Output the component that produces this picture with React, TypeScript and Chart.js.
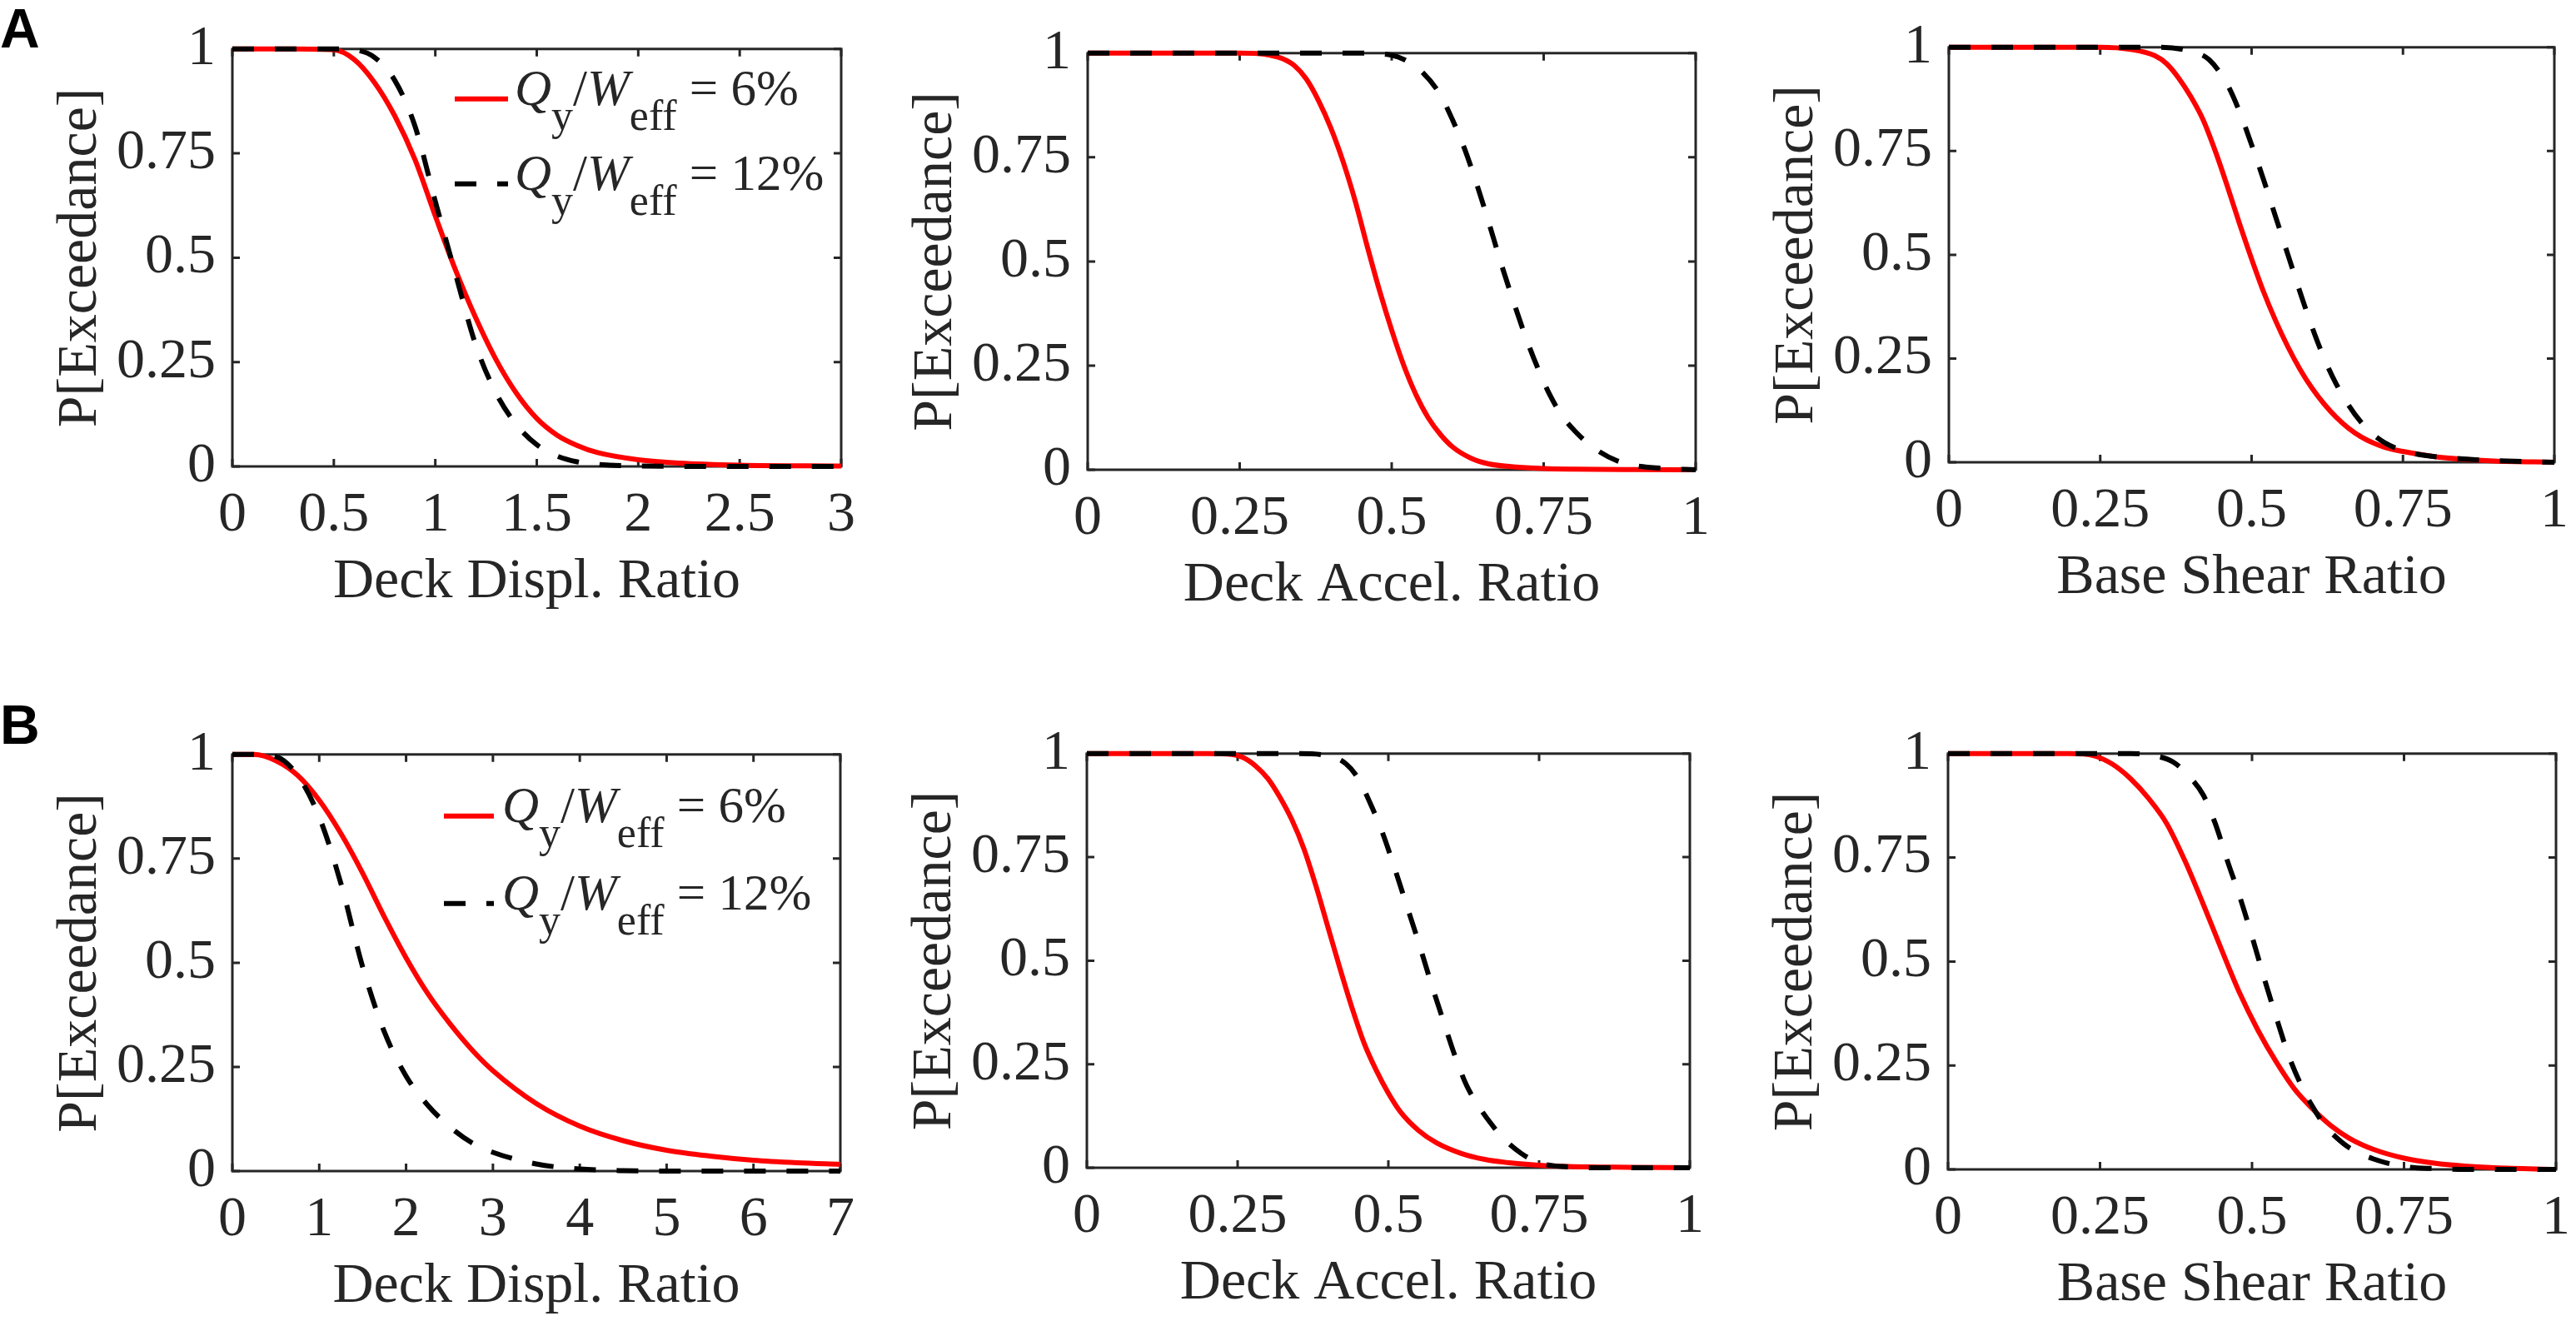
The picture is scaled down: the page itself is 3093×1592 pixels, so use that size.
import { useEffect, useRef } from 'react';
import { Chart, registerables } from 'chart.js';

Chart.register(...registerables);
Chart.defaults.font.family = '"Liberation Serif", "Times New Roman", serif';

const RED = '#ff0000';
const BLACK = '#000000';
const INK = '#262626';
const SERIF = '"Liberation Serif", "Times New Roman", serif';

// tick labels
const probTicks = [0, 0.25, 0.5, 0.75, 1];
const displTicksA = [0, 0.5, 1, 1.5, 2, 2.5, 3];
const displTicksB = [0, 1, 2, 3, 4, 5, 6, 7];
const ratioTicks = [0, 0.25, 0.5, 0.75, 1];

const yTitle = 'P[Exceedance]';
const xTitles = ['Deck Displ. Ratio', 'Deck Accel. Ratio', 'Base Shear Ratio'];
const legendPercents = ['6%', '12%'];

// Row A - deck displacement
const aDisplX6 = [0, 0.3, 0.5, 0.6, 0.7, 0.8, 0.9, 1.0, 1.1, 1.2, 1.3, 1.4, 1.5, 1.6, 1.7, 1.8, 2.0, 2.2, 2.5, 3.0];
const aDisplY6 = [1, 1, 0.998, 0.975, 0.92, 0.84, 0.735, 0.6, 0.47, 0.355, 0.255, 0.175, 0.115, 0.075, 0.05, 0.033, 0.016, 0.008, 0.003, 0.001];
const aDisplX12 = [0, 0.5, 0.6, 0.7, 0.8, 0.9, 1.0, 1.1, 1.2, 1.3, 1.4, 1.5, 1.6, 1.7, 1.8, 2.0, 2.5, 3.0];
const aDisplY12 = [1, 1, 0.998, 0.98, 0.925, 0.815, 0.635, 0.46, 0.29, 0.175, 0.1, 0.052, 0.025, 0.011, 0.005, 0.001, 0, 0];

// Row A - deck acceleration
const aAccelX6 = [0, 0.25, 0.28, 0.3, 0.32, 0.34, 0.36, 0.38, 0.4, 0.42, 0.44, 0.46, 0.48, 0.5, 0.52, 0.54, 0.56, 0.58, 0.6, 0.63, 0.66, 0.7, 0.75, 0.8, 0.9, 1.0];
const aAccelY6 = [1, 1, 0.999, 0.995, 0.987, 0.97, 0.937, 0.885, 0.82, 0.74, 0.645, 0.535, 0.43, 0.335, 0.25, 0.18, 0.125, 0.085, 0.055, 0.028, 0.014, 0.007, 0.003, 0.0015, 0.0005, 0];
const aAccelX12 = [0, 0.45, 0.5, 0.52, 0.55, 0.58, 0.6, 0.62, 0.64, 0.66, 0.68, 0.7, 0.72, 0.74, 0.76, 0.78, 0.8, 0.82, 0.84, 0.87, 0.9, 0.95, 1.0];
const aAccelY12 = [1, 1, 0.995, 0.985, 0.955, 0.9, 0.84, 0.77, 0.685, 0.592, 0.495, 0.405, 0.32, 0.245, 0.18, 0.13, 0.095, 0.067, 0.045, 0.022, 0.01, 0.003, 0];

// Row A - base shear
const aShearX6 = [0, 0.25, 0.3, 0.34, 0.36, 0.38, 0.4, 0.42, 0.44, 0.46, 0.48, 0.5, 0.52, 0.54, 0.56, 0.58, 0.6, 0.62, 0.64, 0.66, 0.68, 0.7, 0.72, 0.75, 0.8, 0.85, 0.9, 1.0];
const aShearY6 = [1, 1, 0.995, 0.98, 0.96, 0.925, 0.88, 0.825, 0.75, 0.665, 0.575, 0.49, 0.41, 0.34, 0.278, 0.224, 0.178, 0.14, 0.108, 0.082, 0.062, 0.047, 0.036, 0.026, 0.014, 0.007, 0.003, 0];
const aShearX12 = [0, 0.35, 0.4, 0.43, 0.46, 0.48, 0.5, 0.52, 0.54, 0.56, 0.58, 0.6, 0.62, 0.64, 0.66, 0.68, 0.7, 0.72, 0.75, 0.8, 0.85, 0.9, 1.0];
const aShearY12 = [1, 1, 0.99, 0.97, 0.91, 0.845, 0.765, 0.68, 0.59, 0.5, 0.41, 0.325, 0.25, 0.188, 0.138, 0.098, 0.068, 0.047, 0.028, 0.014, 0.008, 0.004, 0];

// Row B - deck displacement
const bDisplX6 = [0, 0.25, 0.5, 0.75, 1.0, 1.25, 1.5, 1.75, 2.0, 2.25, 2.5, 2.75, 3.0, 3.5, 4.0, 4.5, 5.0, 5.5, 6.0, 6.5, 7.0];
const bDisplY6 = [1, 1, 0.985, 0.95, 0.89, 0.81, 0.715, 0.61, 0.512, 0.426, 0.355, 0.293, 0.241, 0.162, 0.108, 0.073, 0.05, 0.036, 0.026, 0.02, 0.016];
const bDisplX12 = [0, 0.25, 0.5, 0.75, 1.0, 1.25, 1.5, 1.75, 2.0, 2.25, 2.5, 2.75, 3.0, 3.5, 4.0, 4.5, 5.0, 7.0];
const bDisplY12 = [1, 1, 0.995, 0.95, 0.85, 0.69, 0.49, 0.334, 0.228, 0.158, 0.107, 0.069, 0.045, 0.017, 0.005, 0.001, 0, 0];

// Row B - deck acceleration
const bAccelX6 = [0, 0.2, 0.24, 0.26, 0.28, 0.3, 0.32, 0.34, 0.36, 0.38, 0.4, 0.42, 0.44, 0.46, 0.48, 0.5, 0.52, 0.55, 0.58, 0.62, 0.66, 0.7, 0.75, 0.8, 0.9, 1.0];
const bAccelY6 = [1, 1, 0.998, 0.99, 0.97, 0.94, 0.895, 0.84, 0.77, 0.68, 0.58, 0.48, 0.385, 0.3, 0.235, 0.18, 0.135, 0.09, 0.06, 0.035, 0.02, 0.012, 0.006, 0.003, 0.001, 0];
const bAccelX12 = [0, 0.35, 0.4, 0.43, 0.45, 0.47, 0.49, 0.51, 0.53, 0.55, 0.57, 0.59, 0.61, 0.63, 0.65, 0.67, 0.69, 0.72, 0.75, 0.8, 0.85, 1.0];
const bAccelY12 = [1, 1, 0.995, 0.975, 0.94, 0.88, 0.81, 0.725, 0.635, 0.545, 0.45, 0.36, 0.272, 0.198, 0.148, 0.107, 0.072, 0.035, 0.012, 0.002, 0, 0];

// Row B - base shear
const bShearX6 = [0, 0.2, 0.24, 0.27, 0.3, 0.33, 0.36, 0.39, 0.42, 0.45, 0.48, 0.51, 0.54, 0.57, 0.6, 0.63, 0.66, 0.7, 0.75, 0.8, 0.85, 0.9, 1.0];
const bShearY6 = [1, 1, 0.995, 0.975, 0.94, 0.892, 0.831, 0.741, 0.637, 0.528, 0.423, 0.334, 0.258, 0.193, 0.145, 0.105, 0.075, 0.048, 0.027, 0.015, 0.008, 0.004, 0];
const bShearX12 = [0, 0.3, 0.34, 0.37, 0.4, 0.42, 0.44, 0.46, 0.48, 0.5, 0.52, 0.54, 0.56, 0.58, 0.6, 0.62, 0.64, 0.66, 0.7, 0.75, 0.8, 0.85, 1.0];
const bShearY12 = [1, 1, 0.995, 0.98, 0.94, 0.9, 0.83, 0.74, 0.655, 0.56, 0.46, 0.365, 0.275, 0.205, 0.15, 0.105, 0.075, 0.052, 0.025, 0.007, 0.002, 0, 0];

// plot-area boxes (page pixels) and frame sizes
const Y_AXIS_W = 230;
const X_AXIS_H = 180;
const PAD_TOP = 50;
const PAD_RIGHT = 30;
const TICK_LEN = 9;

type LegendBox = { x0: number; x1: number; tx: number; rows: number[] };

type PanelSpec = {
  box: [number, number, number, number];
  xTicks: number[];
  xTitle: string;
  x6: number[];
  y6: number[];
  x12: number[];
  y12: number[];
  legend?: LegendBox;
};

const panels: PanelSpec[] = [
  { box: [279, 48, 1015, 560], xTicks: displTicksA, xTitle: xTitles[0], x6: aDisplX6, y6: aDisplY6, x12: aDisplX12, y12: aDisplY12,
    legend: { x0: 267, x1: 331, tx: 339, rows: [60, 162] } },
  { box: [1306, 53, 2041, 564], xTicks: ratioTicks, xTitle: xTitles[1], x6: aAccelX6, y6: aAccelY6, x12: aAccelX12, y12: aAccelY12 },
  { box: [2340, 46, 3072, 555], xTicks: ratioTicks, xTitle: xTitles[2], x6: aShearX6, y6: aShearY6, x12: aShearX12, y12: aShearY12 },
  { box: [279, 895, 1014, 1406], xTicks: displTicksB, xTitle: xTitles[0], x6: bDisplX6, y6: bDisplY6, x12: bDisplX12, y12: bDisplY12,
    legend: { x0: 254, x1: 314, tx: 324, rows: [74, 179] } },
  { box: [1305, 894, 2034, 1402], xTicks: ratioTicks, xTitle: xTitles[1], x6: bAccelX6, y6: bAccelY6, x12: bAccelX12, y12: bAccelY12 },
  { box: [2339, 894, 3074, 1404], xTicks: ratioTicks, xTitle: xTitles[2], x6: bShearX6, y6: bShearY6, x12: bShearX12, y12: bShearY12 },
];

const toPoints = (xs: number[], ys: number[]) => xs.map((x, i) => ({ x, y: ys[i] }));

// MATLAB-style box with inward ticks on all four sides
const framePlugin = {
  id: 'matlabFrame',
  beforeDatasetsDraw(chart: any) {
    const { ctx, chartArea: a, scales } = chart;
    ctx.save();
    ctx.strokeStyle = INK;
    ctx.lineWidth = 3;
    ctx.beginPath();
    scales.x.ticks.forEach((t: any) => {
      const px = scales.x.getPixelForValue(t.value);
      ctx.moveTo(px, a.bottom);
      ctx.lineTo(px, a.bottom - TICK_LEN);
      ctx.moveTo(px, a.top);
      ctx.lineTo(px, a.top + TICK_LEN);
    });
    scales.y.ticks.forEach((t: any) => {
      const py = scales.y.getPixelForValue(t.value);
      ctx.moveTo(a.left, py);
      ctx.lineTo(a.left + TICK_LEN, py);
      ctx.moveTo(a.right, py);
      ctx.lineTo(a.right - TICK_LEN, py);
    });
    ctx.stroke();
    ctx.strokeRect(a.left, a.top, a.right - a.left, a.bottom - a.top);
    ctx.restore();
  },
};

// legend with Q_y / W_eff subscripts
const qyLegendPlugin = {
  id: 'qyLegend',
  afterDatasetsDraw(chart: any, _args: any, opts: any) {
    if (!opts || !opts.rows) return;
    const { ctx, chartArea: a } = chart;
    const main = `61px ${SERIF}`;
    const ital = `italic 61px ${SERIF}`;
    const sub = `52px ${SERIF}`;
    const styles = [
      { color: RED, dash: [] as number[] },
      { color: BLACK, dash: [26, 25] },
    ];
    ctx.save();
    styles.forEach((s, i) => {
      const ly = a.top + opts.rows[i];
      ctx.strokeStyle = s.color;
      ctx.lineWidth = 6;
      ctx.setLineDash(s.dash);
      ctx.beginPath();
      ctx.moveTo(a.left + opts.x0, ly);
      ctx.lineTo(a.left + opts.x1, ly);
      ctx.stroke();
      ctx.setLineDash([]);

      const base = ly + 7;
      const parts = [
        { t: 'Q', f: ital, dy: 0 },
        { t: 'y', f: sub, dy: 30 },
        { t: '/', f: main, dy: 0 },
        { t: 'W', f: ital, dy: 0 },
        { t: 'eff', f: sub, dy: 30 },
        { t: ' = ' + legendPercents[i], f: main, dy: 0 },
      ];
      let tx = a.left + opts.tx;
      ctx.fillStyle = INK;
      ctx.textBaseline = 'alphabetic';
      ctx.textAlign = 'left';
      parts.forEach((p) => {
        ctx.font = p.f;
        ctx.fillText(p.t, tx, base + p.dy);
        tx += ctx.measureText(p.t).width;
      });
    });
    ctx.restore();
  },
};

function FragilityPanel({ spec }: { spec: PanelSpec }) {
  const canvasRef = useRef<HTMLCanvasElement>(null);
  const [L, T, R, B] = spec.box;
  const width = R - L + Y_AXIS_W + PAD_RIGHT;
  const height = B - T + PAD_TOP + X_AXIS_H;

  useEffect(() => {
    if (!canvasRef.current) return;
    const tickFont = { family: SERIF, size: 68 };
    const chart = new Chart(canvasRef.current, {
      type: 'line',
      data: {
        datasets: [
          {
            label: 'Qy/Weff = ' + legendPercents[0],
            data: toPoints(spec.x6, spec.y6),
            borderColor: RED,
            borderWidth: 6,
            pointRadius: 0,
            cubicInterpolationMode: 'monotone',
            order: 2,
            clip: 8,
          },
          {
            label: 'Qy/Weff = ' + legendPercents[1],
            data: toPoints(spec.x12, spec.y12),
            borderColor: BLACK,
            borderWidth: 6,
            borderDash: [26, 25],
            pointRadius: 0,
            cubicInterpolationMode: 'monotone',
            order: 1,
            clip: 8,
          },
        ],
      },
      options: {
        responsive: false,
        animation: false,
        devicePixelRatio: 1,
        events: [],
        layout: { padding: { top: PAD_TOP, right: PAD_RIGHT, bottom: 0, left: 0 } },
        plugins: {
          legend: { display: false },
          tooltip: { enabled: false },
          qyLegend: spec.legend ?? {},
        } as any,
        scales: {
          x: {
            type: 'linear',
            min: spec.xTicks[0],
            max: spec.xTicks[spec.xTicks.length - 1],
            grid: { display: false, drawTicks: false },
            border: { display: false },
            afterBuildTicks: (s: any) => {
              s.ticks = spec.xTicks.map((v) => ({ value: v }));
            },
            afterFit: (s: any) => {
              s.height = X_AXIS_H;
            },
            ticks: {
              autoSkip: false,
              maxRotation: 0,
              padding: 18,
              color: INK,
              font: tickFont,
              callback: (v: any) => String(v),
            },
            title: { display: true, text: spec.xTitle, color: INK, font: tickFont, padding: 0 },
          },
          y: {
            type: 'linear',
            min: 0,
            max: 1,
            grid: { display: false, drawTicks: false },
            border: { display: false },
            afterBuildTicks: (s: any) => {
              s.ticks = probTicks.map((v) => ({ value: v }));
            },
            afterFit: (s: any) => {
              s.width = Y_AXIS_W;
            },
            ticks: {
              autoSkip: false,
              padding: 20,
              color: INK,
              font: tickFont,
              callback: (v: any) => String(v),
            },
            title: { display: true, text: yTitle, color: INK, font: tickFont, padding: { top: 7, bottom: 0 } },
          },
        },
      },
      plugins: [framePlugin, qyLegendPlugin],
    });
    return () => {
      chart.destroy();
    };
  }, [spec]);

  return (
    <canvas
      ref={canvasRef}
      width={width}
      height={height}
      style={{ position: 'absolute', left: L - Y_AXIS_W, top: T - PAD_TOP, width, height }}
    />
  );
}

const panelLetter = {
  position: 'absolute' as const,
  left: 0,
  fontFamily: '"Liberation Sans", Arial, sans-serif',
  fontWeight: 700,
  fontSize: 66,
  lineHeight: 1,
  color: '#000',
};

export default function App() {
  return (
    <div style={{ position: 'absolute', left: 0, top: 0, width: 3093, height: 1592, background: '#fff', overflow: 'hidden' }}>
      <div style={{ ...panelLetter, top: 1 }}>A</div>
      <div style={{ ...panelLetter, top: 837 }}>B</div>
      {panels.map((p, i) => (
        <FragilityPanel key={i} spec={p} />
      ))}
    </div>
  );
}
